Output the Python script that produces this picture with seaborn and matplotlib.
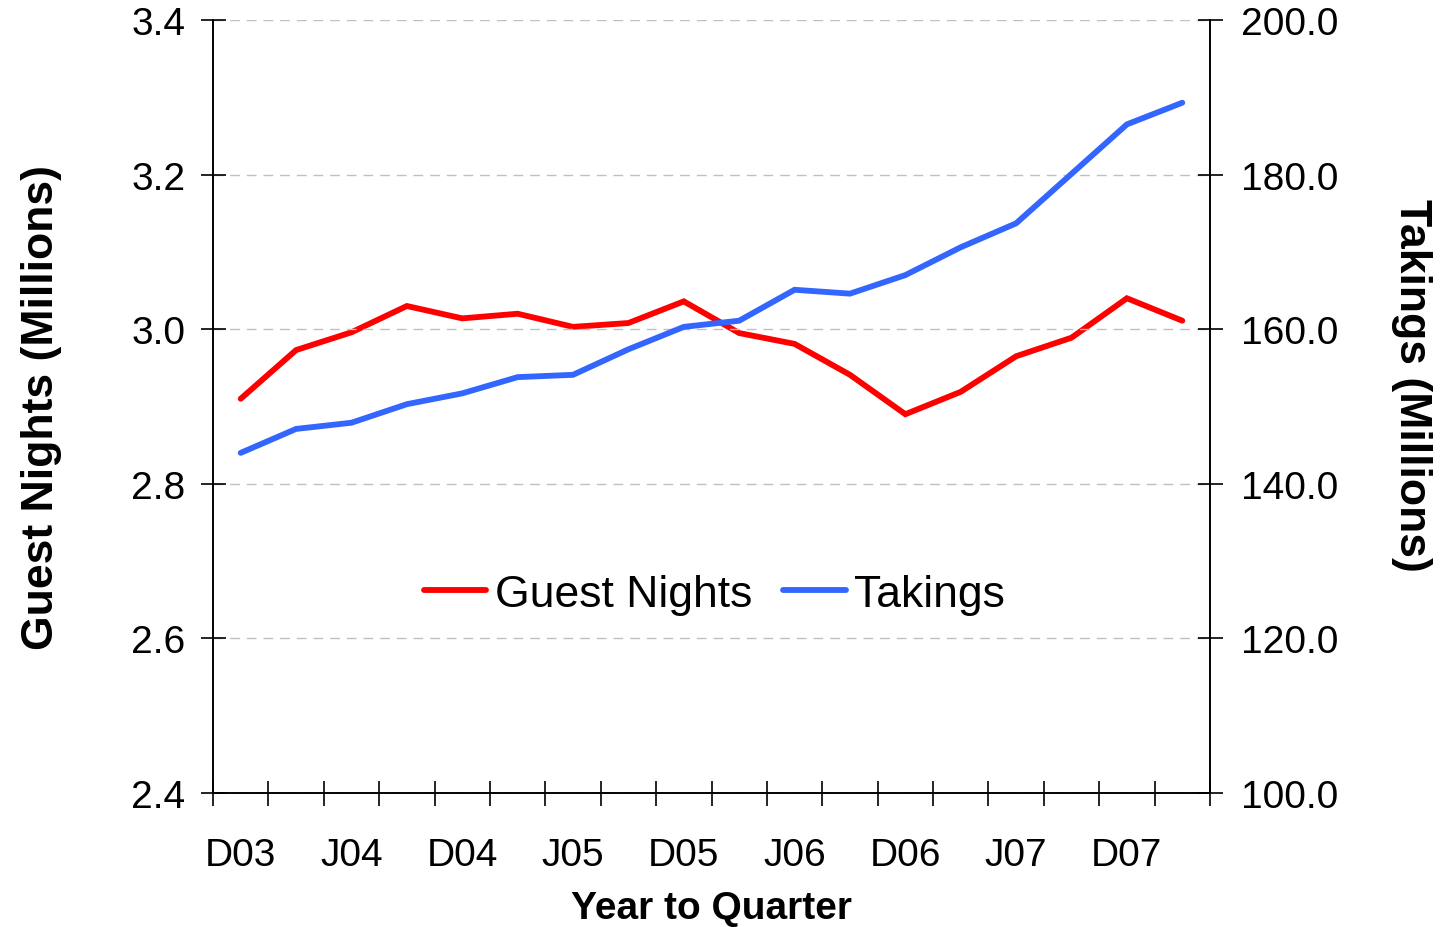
import matplotlib
matplotlib.use("Agg")
import matplotlib.pyplot as plt
import seaborn as sns
import pandas as pd
from matplotlib.ticker import MultipleLocator, FixedLocator

# Year-to-quarter periods (D = Dec, M = Mar, J = Jun, S = Sep)
quarters = ["D03", "M04", "J04", "S04", "D04", "M05", "J05", "S05", "D05",
            "M06", "J06", "S06", "D06", "M07", "J07", "S07", "D07", "M08"]
guest_nights = [2.910, 2.973, 2.996, 3.030, 3.014, 3.020, 3.003, 3.008, 3.036,
                2.995, 2.981, 2.941, 2.890, 2.919, 2.965, 2.989, 3.040, 3.011]
takings = [144.0, 147.1, 147.9, 150.3, 151.7, 153.8, 154.1, 157.4, 160.3,
           161.1, 165.1, 164.6, 167.0, 170.6, 173.7, 180.1, 186.5, 189.3]
tick_labels = quarters[::2]

df = pd.DataFrame({"quarter": quarters, "guest_nights": guest_nights, "takings": takings})

sns.set_style("white", {"text.color": "black", "axes.labelcolor": "black",
                        "xtick.color": "black", "ytick.color": "black",
                        "xtick.bottom": True, "ytick.left": True,
                        "xtick.direction": "inout", "ytick.direction": "inout"})
plt.rcParams['font.family'] = ['Liberation Sans', 'DejaVu Sans']
plt.rcParams['xtick.minor.visible'] = False

fig = plt.figure(figsize=(14.5, 9.28), dpi=100)
ax = fig.add_axes([213 / 1450, 1 - 794 / 928, 997 / 1450, 773 / 928])
ax2 = ax.twinx()

sns.lineplot(data=df, x="quarter", y="guest_nights", ax=ax, color="#FF0000",
             linewidth=4.2, label="Guest Nights", sort=False)
sns.lineplot(data=df, x="quarter", y="takings", ax=ax2, color="#3366FF",
             linewidth=4.2, label="Takings", sort=False)
for line in ax.lines + ax2.lines:
    line.set_solid_capstyle("round")
    line.set_solid_joinstyle("miter")

ax.set_xlim(-0.5, len(quarters) - 0.5)
ax.set_ylim(2.4, 3.4)
ax2.set_ylim(100, 200)
ax.yaxis.set_major_locator(MultipleLocator(0.2))
ax2.yaxis.set_major_locator(MultipleLocator(20))
ax.set_yticklabels([f"{v:.1f}" for v in ax.get_yticks()])
ax2.set_yticklabels([f"{v:.1f}" for v in ax2.get_yticks()])

ax.set_xticks(range(0, len(quarters), 2))
ax.set_xticklabels(tick_labels)
ax.set_xticks([i - 0.5 for i in range(len(quarters) + 1)], minor=True)
ax.tick_params(axis="x", which="major", bottom=False, length=0, pad=32, labelsize=28)
ax.tick_params(axis="x", which="minor", bottom=True, direction="inout", length=18,
               width=1.2, color="black")
ax.tick_params(axis="y", direction="inout", length=18, width=1.2, color="black",
               left=True, pad=11, labelsize=28)
ax2.tick_params(axis="y", direction="inout", length=18, width=1.2, color="black",
                right=True, pad=13, labelsize=28)

ax.yaxis.grid(True, linestyle=(0, (7, 5)), color="#C0C0C0", linewidth=1)
ax.set_axisbelow(False)
ax.set_zorder(0)
ax2.set_zorder(1)

for a in (ax, ax2):
    a.spines["top"].set_visible(False)
    for s in ("left", "right", "bottom"):
        a.spines[s].set_color("black")
        a.spines[s].set_linewidth(1.2)

ax.set_xlabel("Year to Quarter", fontsize=28, fontweight="bold", labelpad=12)
ax.set_ylabel("Guest Nights (Millions)", fontsize=32, fontweight="bold", labelpad=50)
ax2.set_ylabel("Takings (Millions)", fontsize=32, fontweight="bold", rotation=270,
               labelpad=68)
ax2.yaxis.label.set_y(0.528)

h1, l1 = ax.get_legend_handles_labels()
h2, l2 = ax2.get_legend_handles_labels()
ax.get_legend().remove()
ax2.get_legend().remove()
ax2.legend(h1 + h2, l1 + l2, loc="center", bbox_to_anchor=(0.503, 0.257), ncol=2,
           frameon=False, fontsize=32, handlelength=1.4, handletextpad=0.2,
           columnspacing=0.7)

fig.savefig("out.png", dpi=100)
